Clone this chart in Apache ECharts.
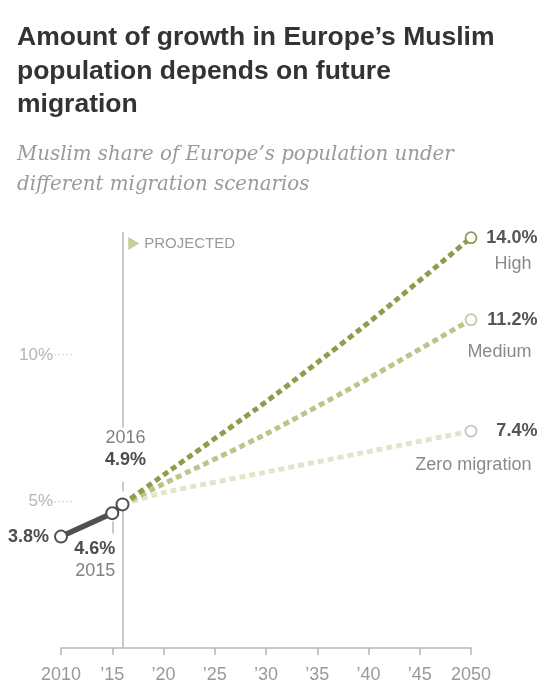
<!DOCTYPE html>
<html>
<head>
<meta charset="utf-8">
<script src="https://cdn.jsdelivr.net/npm/echarts@6/dist/echarts.min.js"></script>
<style>
  html, body { margin: 0; padding: 0; background: #fff; }
  #chart { width: 539px; height: 684px; }
</style>
</head>
<body>
<div id="chart"></div>
<script>
// historical values
const histYears = [2010, 2015, 2016];
const histShare = [3.8, 4.6, 4.9];

// projections
const projYears = [2016, 2020, 2030, 2040, 2050];
const highShare = [4.9, 5.9, 8.4, 11.1, 14.0];
const mediumShare = [4.9, 5.6, 7.3, 9.2, 11.2];
const zeroShare = [4.9, 5.3, 6.0, 6.7, 7.4];
const scenarioNames = ['High', 'Medium', 'Zero migration'];

const yTicks = [5, 10];
const titleText = 'Amount of growth in Europe\u2019s Muslim\npopulation depends on future\nmigration';
const subtitleText = 'Muslim share of Europe\u2019s population under\ndifferent migration scenarios';

const FONT = '"Liberation Sans", Arial, sans-serif';

const chart = echarts.init(document.getElementById('chart'));

function pairs(xs, ys) {
    return xs.map((x, i) => [x, ys[i]]);
}

// projected scenario series
const scenarios = [
    { name: scenarioNames[0], data: highShare, color: '#8c9e4c', end: '#8a9a55', gap: 32 },
    { name: scenarioNames[1], data: mediumShare, color: '#b8c68a', end: '#c2c8ad', gap: 44 },
    { name: scenarioNames[2], data: zeroShare, color: '#e0e6c9', end: '#c6c6c0', gap: 48 }
];

const scenarioSeries = scenarios.map((s, k) => {
    const pts = pairs(projYears, s.data);
    const last = pts.length - 1;
    return {
        name: s.name,
        type: 'line',
        z: 3 + (2 - k),
        data: pts,
        smooth: 0.2,
        symbol: 'circle',
        showAllSymbol: true,
        symbolSize: (v, p) => (p.dataIndex === last ? 11 : 0),
        itemStyle: { color: '#fff', borderColor: s.end, borderWidth: 1.8 },
        lineStyle: { color: s.color, width: 5, type: [6, 4] },
        label: {
            show: true,
            position: 'right',
            align: 'right',
            offset: [55, s.gap / 2],
            formatter: p => p.dataIndex === last
                ? '{v|' + p.value[1].toFixed(1) + '%}\n{n|' + s.name + '}'
                : '',
            rich: {
                v: { fontFamily: FONT, fontSize: 18, fontWeight: 'bold', color: '#555', lineHeight: 20, align: 'right' },
                n: { fontFamily: FONT, fontSize: 18, color: '#8a8a8a', lineHeight: s.gap, align: 'right', padding: [0, 6, 0, 0] }
            }
        },
        emphasis: { disabled: true },
        animation: false
    };
});

// the first scenario also carries the PROJECTED marker
scenarioSeries[0].markPoint = {
    silent: true,
    symbol: 'triangle',
    symbolRotate: -90,
    symbolSize: [13, 11],
    itemStyle: { color: '#c3d09a', borderWidth: 0 },
    label: {
        show: true,
        position: 'right',
        distance: 5,
        formatter: 'PROJECTED',
        fontFamily: FONT,
        fontSize: 15,
        color: '#9a9a9a'
    },
    data: [{ coord: [2017.1, 13.8] }]
};

const histLabels = [
    { position: 'left', distance: 5, formatter: '{v|3.8%}' },
    { position: 'bottom', distance: 18, align: 'right', offset: [3, 0], formatter: '{v|4.6%}\n{y|2015}' },
    { position: 'top', distance: 26, offset: [3, 0], formatter: '{y|2016}\n{v|4.9%}' }
];

const histSeries = {
    name: 'History',
    type: 'line',
    z: 10,
    data: pairs(histYears, histShare).map((p, i) => ({
        value: p,
        label: Object.assign({ show: true }, histLabels[i])
    })),
    symbol: 'circle',
    symbolSize: 12,
    itemStyle: { color: '#fff', borderColor: '#4f4f4f', borderWidth: 2 },
    lineStyle: { color: '#505050', width: 5.5 },
    label: {
        rich: {
            v: { fontFamily: FONT, fontSize: 18, fontWeight: 'bold', color: '#4d4d4d', lineHeight: 22 },
            y: { fontFamily: FONT, fontSize: 18, color: '#808080', lineHeight: 22 }
        }
    },
    markLine: {
        silent: true,
        symbol: 'none',
        lineStyle: { color: '#b8b8b8', width: 1.5, type: 'solid' },
        label: { show: false },
        data: [
            [{ coord: [2016, 0] }, { coord: [2016, 4.9] }],
            [{ coord: [2016, 5.34] }, { coord: [2016, 5.66] }],
            [{ coord: [2016, 7.52] }, { coord: [2016, 14.2] }],
            [{ coord: [2015, 3.91] }, { coord: [2015, 4.32] }]
        ]
    },
    emphasis: { disabled: true },
    animation: false
};

const option = {
    animation: false,
    title: [
        {
            text: titleText,
            left: 12,
            top: 16,
            textStyle: { fontFamily: FONT, fontSize: 26.5, fontWeight: 'bold', color: '#333', lineHeight: 33.5 }
        },
        {
            text: subtitleText,
            left: 12,
            top: 135,
            textStyle: { fontFamily: '"DejaVu Serif", serif', fontStyle: 'italic', fontWeight: 'normal', fontSize: 19.8, color: '#9a9a9a', lineHeight: 30 }
        }
    ],
    grid: { left: 61, right: 68, top: 223, bottom: 35 },
    xAxis: {
        type: 'value',
        min: 2010,
        max: 2050,
        interval: 5,
        axisLine: { lineStyle: { color: '#b8b8b8', width: 1.5 } },
        axisTick: { show: true, length: 7, lineStyle: { color: '#b8b8b8', width: 1.5 } },
        splitLine: { show: false },
        axisLabel: {
            margin: 18,
            fontFamily: FONT,
            fontSize: 18,
            color: '#999',
            formatter: v => (v === 2010 || v === 2050) ? String(v) : '\u2019' + String(v).slice(2)
        }
    },
    yAxis: {
        type: 'value',
        min: 0,
        max: 14.5,
        interval: 5,
        axisLine: { show: false },
        axisTick: { show: false },
        splitLine: { show: false },
        axisLabel: {
            margin: -12,
            formatter: v => yTicks.includes(v) ? '{v|' + v + '%}{d|\u00b7\u00b7\u00b7\u00b7\u00b7}' : '',
            rich: {
                v: { fontFamily: FONT, fontSize: 17, color: '#b5b5b5' },
                d: { fontFamily: FONT, fontSize: 12, color: '#c8c8c8' }
            }
        }
    },
    series: [...scenarioSeries.slice().reverse(), histSeries]
};

chart.setOption(option);
window.addEventListener('resize', () => chart.resize());
</script>
</body>
</html>
